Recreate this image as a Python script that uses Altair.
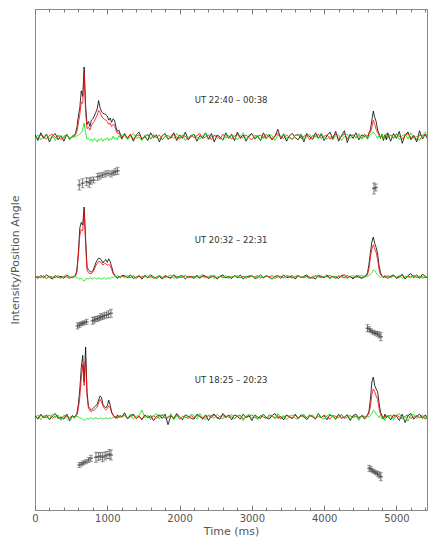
import altair as alt
import pandas as pd

# ---------------- data ----------------
# sampling grid (ms): 40 ms off-pulse, 20 ms through the two pulse windows
time_ms = (list(range(0, 521, 40)) + list(range(540, 1201, 20)) +
           list(range(1240, 4561, 40)) + list(range(4580, 4881, 20)) +
           list(range(4920, 5521, 40)))

# intensities in % of the main-pulse peak; I = total, L = linear, V = circular
# ---- panel 1 : UT 22:40 - 00:38
p1_I = ([3, -5, 6, -2, 4, -7, 1, 5, -4, 2, -6, 4, -3, 1] +
        [2, 5, 14, 30, 42, 66, 58, 100, 45, 18, 22, 15, 24, 26, 30, 35, 40,
         52, 42, 36, 34, 33, 32, 30, 24, 27, 21, 26, 24, 14, 8, 10, 4, -3] +
        [5, -2, 4, -6, 3, 7, -4, 1, -5, 6, -1, 3,
         -7, 2, 5, -3, 0, 6, -5, 3, -2, 7, -4, 1,
         4, -6, 2, -1, 6, -3, 5, -7, 3, 0, -4, 6,
         -2, 4, -5, 7, -1, 3, -6, 2, 5, -3, 1, -5,
         6, -2, 3, -4, 1, 11, -3, 4, -6, 2, 5, -1,
         -4, 3, -7, 5, 0, -3, 6, -2, 4, -5, 2, 7,
         -3, 8, -6, 2, 9, -8, 4, -2, 6, -4, 3, 1] +
        [2, -3, 6, 10, 24, 37, 28, 22, 10, 5, -2, 4, -5, 3, -4, 6] +
        [-6, 5, -2, 8, -9, 3, 7, -4, 2, -7, 9, -3, 4, -5, 6, 2])
p1_L = ([1, -2, 3, 0, -3, 2, 4, -1, 2, -4, 1, 3, -2, 0] +
        [1, 3, 8, 20, 32, 50, 48, 92, 35, 12, 14, 10, 16, 20, 22, 27, 31,
         38, 35, 30, 27, 25, 24, 22, 18, 20, 15, 18, 17, 9, 5, 6, 2, 0] +
        [2, -1, 4, -3, 1, 3, -2, 0, 4, -3, 2, -1,
         3, -4, 1, 2, -2, 4, 0, -3, 2, 1, -4, 3,
         -1, 2, 5, -2, 0, 3, -4, 2, 1, -3, 4, -1,
         2, -3, 1, 4, -2, 0, 3, -1, -4, 2, 1, 3,
         -2, 4, 0, -3, 2, 5, 1, -2, 3, -1, -3, 2,
         4, -2, 1, 3, -4, 2, 0, 4, -2, 1, 3, -3,
         1, 4, -2, 0, 5, -3, 2, 3, -1, 2, -2, 4] +
        [1, 2, 4, 7, 14, 24, 18, 11, 6, 3, 0, 2, -2, 3, 1, -1] +
        [3, -2, 4, 1, -3, 2, 5, -1, 2, -4, 3, 1, 4, -2, 2, 0])
p1_V = ([-2, 3, -4, 1, 4, -3, 2, -5, 3, 0, -2, 4, -4, 2] +
        [-1, 2, 1, 3, 4, 6, 10, 20, 6, -3, -2, -5, -3, -6, -2, -4, -7,
         -3, -5, -2, -6, -3, -4, -1, -5, -2, -4, 1, -3, -1, -4, 2, -1, 3] +
        [3, -4, 1, 5, -2, 0, -5, 3, 2, -3, 4, -1,
         -3, 2, 4, -4, 1, -2, 5, -1, 3, -5, 0, 2,
         4, -1, -3, 2, 5, -4, 1, 3, -2, 0, -5, 4,
         -2, 3, 1, -4, 2, 6, -3, 0, 4, -2, 3, -5,
         1, -3, 4, 2, -5, 3, -1, 5, -2, 1, -4, 3,
         2, 5, -3, 0, 4, -4, 2, -2, 6, -1, -3, 1,
         -4, 2, 3, -5, 1, 4, -2, 3, -1, 5, -3, 0] +
        [2, -3, 1, 3, 5, 7, 4, 2, -2, 3, -1, 4, -3, 2, 5, -2] +
        [3, -1, 5, -4, 2, 4, -3, 6, -2, 1, -5, 3, 7, -2, 4, 1])

# ---- panel 2 : UT 20:32 - 22:31
p2_I = ([1, -2, 2, -1, 3, 0, -3, 2, -1, 1, -2, 3, 0, -1] +
        [1, 2, 10, 35, 70, 78, 74, 100, 55, 14, 10, 8, 7, 9, 14, 20, 24,
         27, 26, 24, 20, 23, 25, 21, 26, 22, 15, 7, 3, 1, -2, 1, -1, 2] +
        [2, -1, 3, -2, 0, 1, -3, 2, -1, 3, 0, -2,
         1, -3, 2, 0, -1, 3, -2, 1, 2, -3, 1, 0,
         -2, 2, -1, 3, 1, -2, 0, 2, -3, 1, 3, -1,
         0, -2, 2, -1, 3, -3, 1, 0, 2, -2, -1, 3,
         -1, 2, 0, -3, 1, 2, -2, 3, -1, 0, 2, -3,
         2, -1, 1, 3, -2, 0, -3, 2, 1, -1, 3, -2,
         1, 0, -2, 2, 3, -1, 1, -3, 2, 0, -2, 1] +
        [2, 6, 18, 35, 50, 57, 48, 42, 33, 16, 6, 2, -1, 2, 0, -2] +
        [1, 3, -2, 0, 4, -3, 2, 5, -1, 3, -2, 4, 1, -3, 2, 0])
p2_L = ([0, 1, -1, 2, -2, 1, 0, -1, 2, -1, 1, 0, -2, 1] +
        [0, 1, 8, 30, 60, 68, 66, 95, 48, 10, 6, 5, 5, 7, 11, 16, 19,
         22, 22, 20, 17, 19, 19, 17, 18, 16, 11, 5, 2, 0, -1, 1, 0, 1] +
        [1, 0, -1, 2, -2, 1, 0, 2, -1, 1, -2, 0,
         2, -1, 1, 0, -2, 2, 1, -1, 0, 2, -1, 1,
         0, 2, -2, 1, 1, -1, 2, 0, -2, 1, 0, -1,
         1, -1, 2, 0, -1, 1, -2, 2, 1, 0, 2, -1,
         -1, 1, 0, 2, -2, 0, 1, -1, 2, 1, -1, 0,
         2, 0, -1, 1, 0, -2, 1, 2, -1, 0, 1, 2,
         0, -2, 1, 1, -1, 2, 0, -1, 1, 2, -1, 0] +
        [1, 3, 12, 28, 40, 46, 40, 35, 25, 10, 3, 1, 0, 1, -1, 2] +
        [0, 2, -1, 1, 2, -2, 1, 0, 2, -1, 1, 0, -1, 2, 1, -1])
p2_V = ([1, -1, 2, 0, -2, 1, -1, 2, 0, -2, 1, 2, -1, 0] +
        [1, 0, -1, -2, -3, -2, -4, -6, -3, -2, -3, -1, -2, -3, -1, -2, -3,
         -1, -2, -3, -2, -1, -3, -2, -1, -2, 0, -1, 1, 0, 2, 1, -1, 1] +
        [-1, 2, 0, 1, -2, 3, -1, 0, 2, -1, 1, -2,
         2, 0, -1, 1, 3, -2, 0, 1, -1, 2, 0, -1,
         1, -2, 2, 0, -1, 1, 2, -2, 0, 1, -1, 2,
         -2, 1, 0, 2, -1, 0, 1, -1, 2, -2, 1, 0,
         0, 2, -1, -2, 1, 2, 0, -1, 1, 0, -2, 1,
         2, -1, 1, 0, -2, 1, 2, 0, -1, 1, 0, -2,
         1, 0, 2, -1, 0, -2, 1, 2, -1, 0, 2, 1] +
        [0, 1, 2, 4, 6, 10, 9, 6, 3, 1, -1, 1, 0, -1, 1, 0] +
        [-1, 1, 0, 2, -2, 1, 0, -1, 2, 0, 1, -2, 1, 0, 2, -1])

# ---- panel 3 : UT 18:25 - 20:23
p3_I = ([2, -3, 4, -1, 3, -4, 1, 5, -2, 0, -3, 4, -5, 2] +
        [-1, 2, 5, 18, 40, 70, 88, 50, 100, 35, 15, 12, 10, 12, 14, 16, 18,
         24, 30, 28, 18, 15, 13, 16, 24, 17, 7, 3, 1, -2, 3, -1, 2, 0] +
        [6, -3, 2, 4, -2, 1, -4, 3, -1, 2, -5, 1,
         3, -2, 4, -11, 2, -3, 5, 0, -4, 3, 1, -2,
         -3, 4, 1, -2, 3, -5, 2, 4, -1, -3, 5, 0,
         2, -4, 3, 1, -3, 4, -1, 2, -5, 3, 0, -2,
         4, -1, -3, 2, 5, -2, 1, -4, 3, 0, -2, 4,
         -2, 3, 0, -4, 2, 1, -3, 5, -1, 2, -4, 3,
         1, -3, 4, -2, 0, 3, -5, 2, 4, -1, 2, -3] +
        [1, 3, 8, 25, 50, 57, 45, 40, 36, 20, 7, 2, -3, 4, -1, 2] +
        [-4, 3, 1, -5, 4, -8, 2, 5, -3, 1, 4, -2, 3, -6, 5, -9])
p3_L = ([1, -2, 2, 0, -1, 3, -2, 1, 0, -3, 2, 1, -1, 2] +
        [0, 1, 3, 12, 28, 55, 75, 45, 85, 30, 12, 9, 8, 9, 10, 12, 14,
         20, 25, 22, 16, 12, 10, 12, 16, 13, 6, 2, 0, 1, -1, 2, 0, 1] +
        [2, -1, 0, 3, -2, 1, -3, 2, 0, -1, 2, -2,
         1, 3, -2, 0, 2, -1, 3, -3, 1, 0, -2, 2,
         -1, 2, 1, -3, 0, 2, -1, 3, -2, 1, 2, -1,
         3, 0, -2, 1, 2, -3, 0, 1, 3, -1, -2, 2,
         0, -2, 3, 1, -1, 2, -3, 0, 2, 1, -2, 3,
         -2, 1, 2, -1, 3, 0, -2, 1, -1, 3, 0, -3,
         2, 1, -1, 3, -2, 0, 2, -1, 1, -3, 2, 0] +
        [0, 2, 5, 15, 32, 40, 36, 30, 25, 12, 4, 1, -2, 2, 0, 1] +
        [2, -1, 3, 0, -2, 1, 3, -2, 0, 2, -1, 1, -3, 2, 1, -1])
p3_V = ([-2, 3, -4, 2, 0, -3, 4, -1, 3, -5, 2, -2, -6, 1] +
        [-2, 0, 1, 0, -1, -2, -3, -5, -4, -2, -3, -2, -1, -3, -2, -1, -2,
         -3, -1, -2, -3, -2, -1, -2, -3, -1, -2, 0, -1, 1, -2, 0, 2, -1] +
        [3, -2, 4, -3, 1, 2, 10, -1, 3, -4, 2, 5,
         -3, 4, 1, -2, 5, -4, 2, 0, -3, 3, -1, 4,
         2, -3, 5, -1, -4, 3, 1, -2, 4, 0, -3, 2,
         -1, 4, -3, 2, 3, -5, 1, 4, -2, 3, -4, 1,
         4, -2, 0, 3, -3, 5, -1, 2, -4, 1, 3, -2,
         -3, 2, 4, -4, 1, 3, -2, 5, -1, -3, 2, 4,
         1, -4, 2, 3, -1, 4, -3, 0, 2, -5, 3, 1] +
        [-2, 1, 0, 2, 5, 10, 8, 4, 2, -1, 3, -3, 1, -5, 2, 0] +
        [3, -4, 2, 5, -2, 1, -6, 3, 4, -2, 0, 3, -3, 5, -1, 2])

# position angle (deg) with errors
p1_pa_t = [613, 659, 714, 751, 774, 811, 866, 899, 935, 972, 1010, 1051, 1083, 1111, 1143, 4690, 4715]
p1_pa = [-20, -13, -7, -11, -3, 0, 13, 16, 20, 24, 27, 24, 29, 33, 37, -34, -30]
p1_pa_err = [20, 18, 16, 18, 14, 12, 14, 12, 10, 12, 10, 12, 10, 12, 14, 22, 14]

p2_pa_t = [589, 613, 636, 659, 682, 714, 797, 820, 843, 866, 889, 912, 935, 959, 990, 1018, 1051,
           4600, 4624, 4647, 4670, 4693, 4716, 4739, 4762, 4785]
p2_pa = [-24, -20, -16, -13, -11, -7, -3, 0, 4, 5, 8, 13, 13, 17, 20, 23, 27,
         -33, -37, -43, -48, -51, -53, -56, -60, -67]
p2_pa_err = [12, 10, 8, 8, 8, 10, 14, 12, 10, 10, 10, 12, 10, 12, 12, 14, 16,
             14, 10, 8, 8, 8, 8, 10, 12, 16]

p3_pa_t = [613, 645, 672, 705, 741, 774, 843, 875, 903, 935, 968, 996, 1028, 1051,
           4624, 4647, 4670, 4693, 4716, 4739, 4762, 4785]
p3_pa = [-20, -16, -11, -7, 0, 7, 11, 13, 16, 11, 16, 20, 23, 20,
         -33, -37, -43, -47, -51, -56, -60, -67]
p3_pa_err = [10, 8, 8, 8, 10, 12, 20, 16, 14, 18, 16, 14, 18, 20,
             12, 10, 8, 8, 8, 10, 12, 16]

panel_labels = ["UT  22:40 – 00:38", "UT  20:32 – 22:31", "UT  18:25 – 20:23"]
x_tick_values = list(range(0, 5401, 200))

# ---------------- layout constants (plot px from bottom) ----------------
BASE = [373, 233, 93]        # profile baselines
PA_ZERO = [330, 190, 50]     # PA = 0 deg level
LABEL_Y = [410, 270, 130]
LABEL_T = 2210
AMP = 0.70                   # px per % of peak
PA_PX = 0.25                 # px per degree

profiles = [(p1_I, p1_L, p1_V), (p2_I, p2_L, p2_V), (p3_I, p3_L, p3_V)]
pas = [(p1_pa_t, p1_pa, p1_pa_err), (p2_pa_t, p2_pa, p2_pa_err), (p3_pa_t, p3_pa, p3_pa_err)]

rows = []
for k, trio in enumerate(profiles):
    for s, arr in zip(["I", "L", "V"], trio):
        assert len(arr) == len(time_ms), (k, s, len(arr))
        for t, val in zip(time_ms, arr):
            rows.append({"t": t, "v": BASE[k] + AMP * val, "series": s, "panel": k})
prof = pd.DataFrame(rows)

pa_rows = []
for k, (ts, ps, es) in enumerate(pas):
    for t, p, e in zip(ts, ps, es):
        c = PA_ZERO[k] + PA_PX * p
        pa_rows.append({"t": t, "v": c, "lo": c - PA_PX * e, "hi": c + PA_PX * e, "panel": k})
pa_df = pd.DataFrame(pa_rows)
cap_df = pd.concat([pa_df.assign(cv=pa_df["lo"]), pa_df.assign(cv=pa_df["hi"])])

lab_df = pd.DataFrame({"t": [LABEL_T] * 3, "v": LABEL_Y, "text": panel_labels})

# ---------------- encodings ----------------
FONT = "DejaVu Sans"
AX_COL = "#777777"
TXT_COL = "#555555"
xscale = alt.Scale(domain=[0, 5423], nice=False, zero=False)
yscale = alt.Scale(domain=[0, 501], nice=False, zero=False)
tick_cond = {"condition": {"test": "datum.value % 1000 === 0", "value": -5}, "value": -3}

x_bottom = alt.Axis(orient="bottom", values=x_tick_values, format="d", domain=False, grid=False,
                    tickSize=tick_cond, tickColor=AX_COL, tickWidth=1,
                    labelExpr="datum.value % 1000 === 0 ? datum.label : ''",
                    labelFlush=False, labelOverlap=False, labelFont=FONT, labelFontSize=10,
                    labelColor=TXT_COL, labelPadding=8,
                    title="Time (ms)", titleFont=FONT, titleFontSize=11, titleFontWeight="normal",
                    titleColor=TXT_COL, titleY=15, titleBaseline="top")
x_top = alt.Axis(orient="top", values=x_tick_values, domain=False, grid=False, labels=False,
                 tickSize=tick_cond, tickColor=AX_COL, tickWidth=1, title=None)
yaxis = alt.Axis(title="Intensity/Position Angle", labels=False, ticks=False, domain=False, grid=False,
                 titleFont=FONT, titleFontSize=11, titleFontWeight="normal", titleColor=TXT_COL,
                 titlePadding=15)

def X(axis=None):
    return alt.X("t:Q", scale=xscale, axis=axis)

def Y(field="v:Q"):
    return alt.Y(field, scale=yscale, axis=yaxis)

base = alt.Chart(prof)
black = base.transform_filter("datum.series == 'I'").mark_line(
    color="#000000", strokeWidth=0.8, clip=True).encode(x=X(x_bottom), y=Y(), detail="panel:N")
red = base.transform_filter("datum.series == 'L'").mark_line(
    color="#ff0000", strokeWidth=0.8, clip=True).encode(x=X(), y=Y(), detail="panel:N")
green = base.transform_filter("datum.series == 'V'").mark_line(
    color="#00e600", strokeWidth=0.8, clip=True).encode(x=X(), y=Y(), detail="panel:N")

pa_bars = alt.Chart(pa_df).mark_rule(color="#555555", strokeWidth=0.8).encode(
    x=X(), y=Y("lo:Q"), y2="hi:Q")
pa_caps = alt.Chart(cap_df).mark_tick(orient="horizontal", size=4, thickness=0.8, color="#555555").encode(
    x=X(), y=Y("cv:Q"))
pa_pts = alt.Chart(pa_df).mark_tick(orient="horizontal", size=4, thickness=1.5, color="#444444").encode(
    x=X(), y=Y())

labels = alt.Chart(lab_df).mark_text(align="left", baseline="middle", font=FONT, fontSize=8.5,
                                     color="#333333").encode(x=X(x_top), y=Y(), text="text:N")

chart = alt.layer(black, red, green, pa_bars, pa_caps, pa_pts, labels).resolve_axis(
    x="independent"
).properties(
    width=392, height=501,
    autosize=alt.AutoSizeParams(type="none"),
    padding={"left": 27, "top": 1, "right": 1, "bottom": 28},
    background="white",
).configure_view(stroke="#888888", strokeWidth=1)

chart.save("out.html", embed_options={"renderer": "svg", "actions": False})
